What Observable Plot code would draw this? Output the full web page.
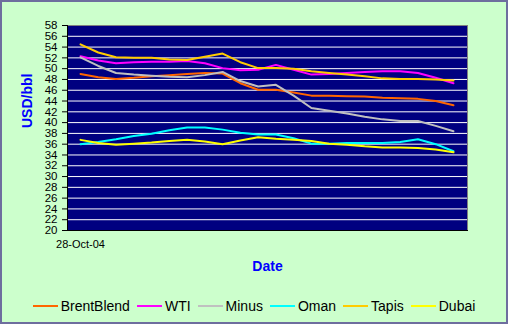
<!DOCTYPE html>
<html>
<head>
<meta charset="utf-8">
<script src="https://cdn.jsdelivr.net/npm/d3@7"></script>
<script src="https://cdn.jsdelivr.net/npm/@observablehq/plot@0.6"></script>
<style>
  html, body { margin: 0; padding: 0; background: #CCFFCC; }
  #wrap { position: relative; width: 508px; height: 324px; background: #CCFFCC; overflow: hidden; font-family: "Liberation Sans", Arial, sans-serif; }
  #chart { position: absolute; left: 0; top: 0; }
  #border { position: absolute; left: 0; top: 0; width: 508px; height: 324px; box-sizing: border-box; border: 2px solid #6E6E9E; pointer-events: none; }
  #legend { position: absolute; left: 0; top: 296px; width: 508px; height: 20px; display: flex; justify-content: center; align-items: center; font-size: 14px; color: #000; }
  .item { display: flex; align-items: center; margin: 0 3.5px; }
  .sw { width: 25px; height: 2px; margin-right: 3px; }
</style>
</head>
<body>
<div id="wrap">
  <div id="chart"></div>
  <div id="legend"></div>
  <div id="border"></div>
</div>
<script>
const dates = ["2004-10-28","2004-10-29","2004-11-01","2004-11-02","2004-11-03","2004-11-04","2004-11-05","2004-11-08","2004-11-09","2004-11-10","2004-11-11","2004-11-12","2004-11-15","2004-11-16","2004-11-17","2004-11-18","2004-11-19","2004-11-22","2004-11-23","2004-11-24","2004-11-25","2004-11-26"];
const seriesNames = ["BrentBlend","WTI","Minus","Oman","Tapis","Dubai"];
const seriesColors = ["#FF6600","#FF00FF","#C0C0C0","#00FFFF","#FFCC00","#FFFF00"];
const brentBlend = [49.0,48.4,48.1,48.3,48.6,48.8,49.0,49.2,49.1,47.3,46.1,46.1,45.6,45.0,45.0,44.9,44.85,44.6,44.5,44.4,44.0,43.2];
const wti        = [52.3,51.5,51.0,51.2,51.3,51.3,51.4,51.0,50.1,49.7,49.8,50.7,49.8,48.9,49.0,49.2,49.4,49.5,49.5,49.2,48.3,47.3];
const minus      = [52.1,50.5,49.2,48.9,48.7,48.5,48.4,48.8,49.4,47.7,46.7,47.0,45.0,42.7,42.2,41.7,41.1,40.6,40.3,40.3,39.4,38.4];
const oman       = [36.0,36.4,36.9,37.5,37.95,38.6,39.1,39.1,38.7,38.1,37.8,37.8,37.1,36.1,36.1,36.2,36.2,36.2,36.4,36.9,36.0,34.7];
const tapis      = [54.5,53.0,52.1,52.0,52.0,51.7,51.6,52.2,52.8,51.2,50.1,50.1,50.0,49.5,49.2,48.9,48.6,48.2,48.1,48.1,48.0,47.8];
const dubai      = [36.8,36.2,35.9,36.1,36.3,36.6,36.8,36.5,36.0,36.7,37.3,37.0,36.8,36.6,36.1,35.9,35.6,35.4,35.4,35.3,35.0,34.5];
const yTicks = d3.range(20, 59, 2);
const xLabel = "28-Oct-04";

const allValues = [brentBlend, wti, minus, oman, tapis, dubai];
const rows = [];
seriesNames.forEach((s, si) => {
  dates.forEach((d, i) => rows.push({series: s, date: d, value: allValues[si][i]}));
});

const font = "Liberation Sans, Arial, sans-serif";
const chart = Plot.plot({
  width: 508,
  height: 292,
  marginLeft: 67,
  marginRight: 41,
  marginTop: 25,
  marginBottom: 62,
  style: {background: "transparent", fontFamily: font, color: "#000"},
  x: {type: "point", domain: dates, range: [80, 453], padding: 0, round: false},
  y: {domain: [20, 58]},
  color: {domain: seriesNames, range: seriesColors},
  marks: [
    Plot.frame({fill: "#000080", stroke: null}),
    Plot.ruleY(yTicks.filter(t => t > 20 && t < 58), {stroke: "#FFFFFF", strokeWidth: 1}),
    Plot.frame({anchor: "top", stroke: "#808080"}),
    Plot.frame({anchor: "right", stroke: "#808080"}),
    Plot.lineY(rows, {x: "date", y: "value", z: "series", stroke: "series", strokeWidth: 2}),
    Plot.frame({anchor: "left", stroke: "#000"}),
    Plot.frame({anchor: "bottom", stroke: "#000"}),
    Plot.axisY({ticks: yTicks, tickSize: 5, tickPadding: 5, fontSize: 11.5, tickFormat: d3.format("d"), label: null, stroke: "#000"}),
    Plot.axisX({ticks: [dates[0]], tickSize: 0, tickPadding: 10, fontSize: 11, tickFormat: () => xLabel, label: null}),
    Plot.text(["USD/bbl"], {frameAnchor: "left", dx: -40, rotate: -90, fill: "#0000FF", fontWeight: "bold", fontSize: 14}),
    Plot.text(["Date"], {frameAnchor: "bottom", dy: 40, fill: "#0000FF", fontWeight: "bold", fontSize: 14})
  ]
});
document.getElementById("chart").appendChild(chart);

const legend = document.getElementById("legend");
seriesNames.forEach((s, i) => {
  const it = document.createElement("div");
  it.className = "item";
  const sw = document.createElement("div");
  sw.className = "sw";
  sw.style.background = seriesColors[i];
  const tx = document.createElement("span");
  tx.textContent = s;
  it.appendChild(sw); it.appendChild(tx);
  legend.appendChild(it);
});
</script>
</body>
</html>
